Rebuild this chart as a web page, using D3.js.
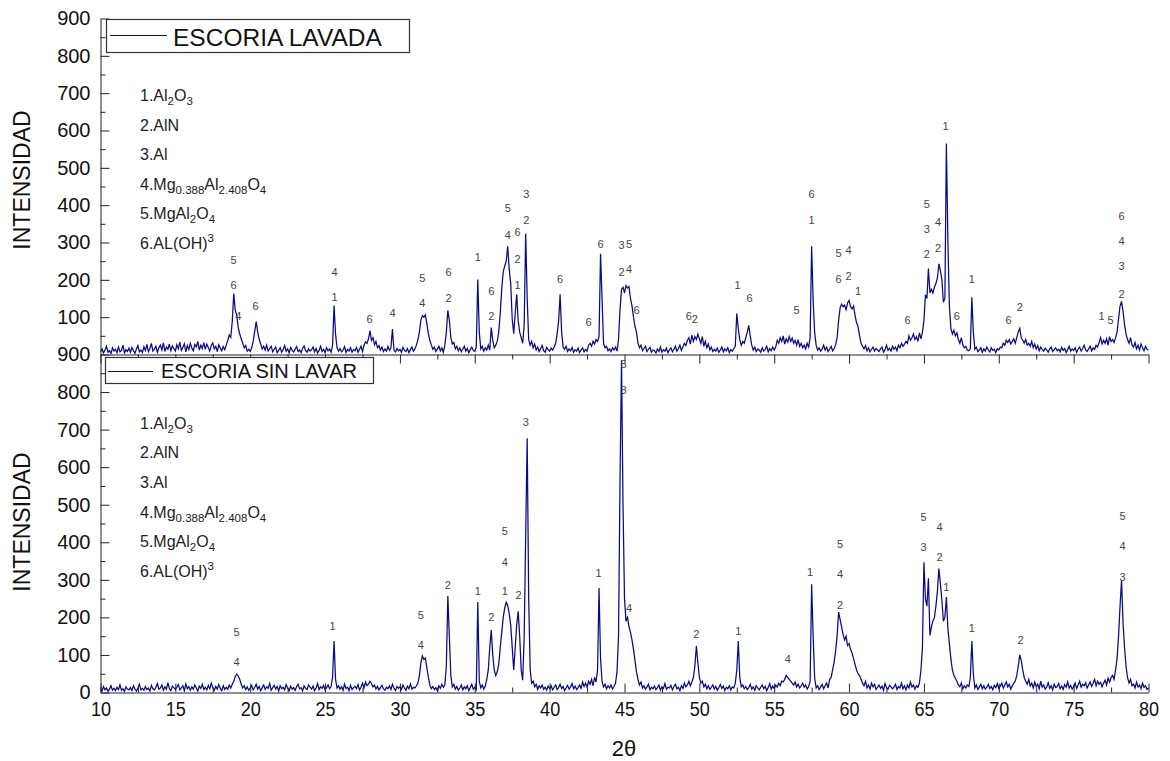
<!DOCTYPE html>
<html>
<head>
<meta charset="utf-8">
<script src="https://cdn.jsdelivr.net/npm/d3@7"></script>
<style>
  body { margin: 0; background: #fff; }
  svg { display: block; }
  text { font-family: "Liberation Sans", Arial, sans-serif; }
</style>
</head>
<body>
<svg id="chart" width="1170" height="761"></svg>
<script>
// Diffractograms sampled every 0.1° in 2θ, starting at 10°
const angleStart = 10;
const angleStep = 0.1;

// Washed slag (ESCORIA LAVADA), one row per degree
const lavada = [
  8,15,4,12,22,6,10,3,18,9,
  14,5,20,7,11,25,4,13,8,17,
  6,19,10,3,15,24,7,12,5,21,
  11,27,8,16,30,9,14,22,6,18,
  25,12,31,8,20,14,28,10,23,16,
  9,26,15,33,11,19,29,7,24,13,
  30,17,10,27,21,35,12,25,16,32,
  14,28,19,9,24,31,15,22,8,26,
  17,10,21,13,25,38,52,46,88,163,
  118,105,72,55,42,30,18,24,9,14,
  8,18,35,62,88,60,40,28,15,22,
  12,25,9,16,22,7,14,20,5,11,
  18,6,13,24,9,15,4,19,11,7,
  14,21,8,12,5,17,23,10,6,15,
  9,13,20,7,16,4,11,22,8,14,
  5,18,10,15,6,24,131,55,18,9,
  16,7,12,21,5,14,9,18,6,13,
  10,19,6,14,22,8,25,34,30,42,
  64,38,45,26,35,18,24,12,20,8,
  15,9,22,11,18,68,12,7,16,10,
  14,6,19,11,8,16,5,13,20,9,
  15,25,40,60,92,104,100,106,82,55,
  38,25,14,20,8,15,22,10,18,6,
  25,60,118,92,45,28,32,15,22,10,
  18,7,14,22,9,16,5,13,20,11,
  8,20,201,60,15,22,9,18,12,25,
  12,72,38,18,25,35,60,110,175,222,
  237,250,290,228,190,95,56,110,161,90,
  60,45,30,80,324,150,40,25,35,18,
  28,12,20,8,16,24,10,6,19,13,
  9,17,12,20,30,55,90,161,60,20,
  14,22,8,15,10,19,6,13,9,17,
  5,12,18,7,14,9,25,30,22,35,
  28,40,35,48,270,150,30,18,22,10,
  15,8,18,12,20,9,40,120,175,180,
  165,185,178,182,150,130,100,75,60,30,
  18,25,10,16,22,8,14,19,6,12,
  10,4,15,8,20,6,13,9,17,5,
  12,18,7,14,22,9,16,25,11,20,
  30,24,38,45,28,52,35,48,40,55,
  42,30,48,22,35,18,28,12,20,8,
  14,9,17,6,12,20,7,15,10,18,
  5,13,9,16,22,110,70,40,25,35,
  30,45,60,78,50,25,12,20,8,15,
  12,6,18,9,14,22,7,16,10,20,
  12,20,38,30,45,35,50,28,42,33,
  48,35,44,30,38,25,40,22,30,18,
  25,15,30,20,45,290,145,60,25,12,
  18,9,15,25,12,20,8,14,22,10,
  16,25,45,90,125,135,128,132,120,138,
  145,128,122,130,105,85,75,50,30,22,
  15,24,10,18,7,14,20,9,16,12,
  8,15,20,6,13,25,11,17,9,22,
  14,20,10,25,18,30,22,28,35,30,
  50,38,45,55,40,48,35,58,42,60,
  90,160,150,230,165,175,165,180,190,205,
  243,225,200,140,150,565,305,130,70,55,
  65,50,58,40,30,45,25,18,22,12,
  10,16,153,60,14,20,8,12,18,6,
  15,9,20,12,7,18,11,14,5,16,
  12,20,18,30,25,38,32,40,28,35,
  42,30,45,60,70,45,38,30,40,25,
  30,22,35,18,28,15,24,10,20,14,
  9,17,12,6,15,20,8,13,18,10,
  14,7,19,11,16,5,13,22,9,15,
  11,18,6,14,20,9,16,25,12,8,
  15,22,10,18,14,25,20,32,45,28,
  38,30,42,25,48,35,40,32,45,60,
  95,130,142,115,80,55,40,30,45,25,
  20,32,15,25,12,28,18,10,22,14,
  12
];

// Unwashed slag (ESCORIA SIN LAVAR), one row per degree
const sinLavar = [
  10,4,16,7,12,3,9,18,6,11,
  5,14,8,20,6,10,3,15,9,7,
  13,5,18,9,4,12,22,7,11,6,
  16,8,12,4,19,10,7,14,24,9,
  12,20,6,15,9,26,11,5,17,13,
  8,14,21,7,12,18,5,23,10,16,
  6,15,9,20,12,4,17,11,22,8,
  14,7,19,10,25,13,6,16,9,21,
  11,5,18,8,14,9,20,12,22,30,
  42,49,44,35,22,12,18,8,15,6,
  12,18,7,14,22,9,16,5,13,20,
  8,15,11,24,6,13,19,9,16,4,
  18,10,14,7,21,12,5,17,9,13,
  6,16,22,10,13,4,18,11,8,20,
  14,9,17,5,12,24,8,15,11,19,
  7,13,20,10,16,40,137,35,12,18,
  9,15,6,22,11,14,5,19,8,13,
  16,10,21,7,14,25,12,28,18,22,
  30,24,15,20,9,16,7,13,19,10,
  6,14,10,18,8,22,12,5,16,11,
  15,8,20,12,6,17,10,23,9,14,
  12,18,25,45,80,97,88,92,65,40,
  20,10,16,8,13,5,18,11,22,14,
  20,70,257,150,45,15,22,9,16,6,
  12,20,7,15,10,18,5,13,22,9,
  14,8,241,30,12,20,9,17,35,60,
  120,166,100,60,45,55,75,120,160,200,
  225,240,232,210,180,120,60,120,180,216,
  150,60,33,150,420,677,250,60,25,30,
  15,22,8,18,12,20,9,14,6,17,
  10,18,7,14,20,8,13,22,11,16,
  5,12,19,9,15,24,10,17,8,13,
  20,11,28,16,25,14,30,22,35,18,
  40,28,60,278,90,30,15,22,10,18,
  12,20,9,16,25,55,150,560,884,503,
  250,190,200,175,160,140,115,85,55,35,
  20,28,12,18,9,15,22,7,14,10,
  17,8,13,20,6,15,11,24,9,14,
  12,19,7,16,22,10,14,5,18,11,
  25,15,20,30,18,28,40,70,124,80,
  40,25,30,15,22,10,18,8,14,20,
  9,16,6,13,21,11,17,5,14,10,
  18,7,15,12,25,60,137,40,15,20,
  10,16,8,13,22,9,15,6,18,12,
  7,14,20,10,16,5,13,24,9,17,
  11,20,14,25,18,30,28,35,45,40,
  35,30,25,20,28,15,22,12,18,25,
  14,20,9,16,30,288,150,40,12,18,
  8,15,22,10,18,25,12,35,40,60,
  80,110,150,214,195,175,155,140,150,125,
  130,115,105,90,75,60,50,45,35,25,
  18,30,12,20,9,25,15,22,8,14,
  20,11,17,6,24,13,9,19,15,10,
  14,22,8,16,12,25,10,18,7,20,
  12,28,15,20,9,18,14,25,60,120,
  347,250,230,304,152,175,190,200,230,270,
  330,290,245,190,200,254,170,130,90,60,
  45,38,30,20,15,25,10,18,12,20,
  16,40,137,50,12,20,8,15,22,10,
  18,9,14,22,11,16,7,19,13,24,
  10,17,25,12,20,28,15,22,9,18,
  25,30,45,70,100,85,60,40,30,22,
  35,18,25,12,28,16,22,10,30,14,
  20,9,15,26,11,18,7,22,13,16,
  24,10,17,8,21,14,28,12,19,9,
  15,25,11,20,30,14,22,18,26,12,
  20,28,16,24,35,18,30,22,27,15,
  25,33,20,38,28,40,45,35,60,90,
  150,230,299,185,120,70,40,25,35,18,
  22,12,28,15,20,10,25,14,18,8,
  12
];

// Axis ticks
const xMajorTicks = [10,15,20,25,30,35,40,45,50,55,60,65,70,75,80];
const xMinorTicks = [12.5,17.5,22.5,27.5,32.5,37.5,42.5,47.5,52.5,57.5,62.5,67.5,72.5,77.5];
const yMajorTicksTop = [100,200,300,400,500,600,700,800,900];
const yMajorTicksBottom = [0,100,200,300,400,500,600,700,800,900];
const yMinorTicks = [50,150,250,350,450,550,650,750,850];

// Phase key: [text, "sub" | "sup" | ""]
const phases = [
  [["1.Al",""],["2","sub"],["O",""],["3","sub"]],
  [["2.AlN",""]],
  [["3.Al",""]],
  [["4.Mg",""],["0.388","sub"],["Al",""],["2.408","sub"],["O",""],["4","sub"]],
  [["5.MgAl",""],["2","sub"],["O",""],["4","sub"]],
  [["6.AL(OH)",""],["3","sup"]]
];

// Peak identification labels: [2θ, intensity, phase number]
const lavadaPeaks = [
  [18.88,254,"5"],[18.88,187,"6"],[19.2,102,"4"],[20.35,131,"6"],
  [25.63,222,"4"],[25.63,155,"1"],[27.97,96,"6"],[29.5,110,"4"],
  [31.5,206,"5"],[31.5,139,"4"],[33.25,220,"6"],[33.25,150,"2"],
  [35.2,260,"1"],[36.1,171,"6"],[36.1,102,"2"],
  [37.2,391,"5"],[37.2,321,"4"],[37.85,327,"6"],[37.85,257,"2"],[37.85,187,"1"],
  [38.45,429,"3"],[38.45,359,"2"],[40.7,201,"6"],[42.6,86,"6"],[43.4,297,"6"],
  [44.8,292,"3"],[45.3,295,"5"],[44.8,222,"2"],[45.3,228,"4"],[45.8,120,"6"],
  [49.3,104,"6"],[49.7,96,"2"],[52.55,187,"1"],[53.35,150,"6"],[56.5,120,"5"],
  [57.5,429,"6"],[57.5,359,"1"],
  [59.3,273,"5"],[59.97,279,"4"],[59.3,201,"6"],[59.97,209,"2"],[60.6,169,"1"],
  [63.9,91,"6"],[65.2,404,"5"],[65.2,335,"3"],[65.95,356,"4"],[65.2,268,"2"],[65.95,284,"2"],
  [66.45,613,"1"],[67.2,104,"6"],[68.2,201,"1"],[70.65,91,"6"],[71.4,126,"2"],
  [76.87,102,"1"],[77.47,91,"5"],
  [78.2,372,"6"],[78.2,303,"4"],[78.2,236,"3"],[78.2,163,"2"]
];
const sinLavarPeaks = [
  [19.08,161,"5"],[19.08,81,"4"],[25.5,177,"1"],[31.4,206,"5"],[31.4,126,"4"],
  [33.2,286,"2"],[35.2,270,"1"],[36.1,201,"2"],
  [37.0,429,"5"],[37.0,347,"4"],[37.0,270,"1"],[37.92,259,"2"],[38.4,719,"3"],
  [43.27,318,"1"],[44.94,874,"5"],[44.94,805,"3"],[45.3,225,"4"],
  [49.8,155,"2"],[52.6,163,"1"],[55.9,89,"4"],[57.4,320,"1"],
  [59.4,395,"5"],[59.4,315,"4"],[59.4,233,"2"],
  [64.98,467,"5"],[64.98,387,"3"],[66.05,441,"4"],[66.05,361,"2"],[66.5,281,"1"],
  [68.2,172,"1"],[71.46,140,"2"],
  [78.27,469,"5"],[78.27,390,"4"],[78.27,308,"3"]
];

const seriesNames = ["ESCORIA LAVADA", "ESCORIA SIN LAVAR"];

const svg = d3.select("#chart");
const lineColor = "#0a0a88";
const axisColor = "#222";

const x = d3.scaleLinear().domain([10, 80]).range([100.5, 1148.5]);
const yTop = d3.scaleLinear().domain([0, 900]).range([354.5, 18.5]);
const yBot = d3.scaleLinear().domain([0, 900]).range([692.5, 354.5]);

function toPoints(values) {
  return values.map((v, i) => [angleStart + i * angleStep, v]);
}

function drawSeries(values, y) {
  const line = d3.line().x(d => x(d[0])).y(d => y(d[1]));
  svg.append("path")
    .datum(toPoints(values))
    .attr("fill", "none")
    .attr("stroke", lineColor)
    .attr("stroke-width", 1.25)
    .attr("stroke-linejoin", "miter")
    .attr("d", line);
}

function styleAxis(g) {
  g.selectAll("path.domain").attr("stroke", axisColor);
  g.selectAll(".tick line").attr("stroke", axisColor);
  g.selectAll("text").attr("fill", "#111").attr("font-family", "Liberation Sans, Arial, sans-serif");
}

function drawYAxis(y, majors) {
  const g = svg.append("g").attr("transform", "translate(100.5,0)");
  g.call(d3.axisLeft(y).tickValues(majors).tickSizeInner(-9).tickSizeOuter(0).tickPadding(10).tickFormat(d3.format("d")))
    .call(styleAxis);
  g.selectAll("text").attr("font-size", 20);
  const gm = svg.append("g").attr("transform", "translate(100.5,0)");
  gm.call(d3.axisLeft(y).tickValues(yMinorTicks).tickSizeInner(-5).tickSizeOuter(0).tickFormat(""))
    .call(styleAxis);
  gm.select("path.domain").remove();
}

function drawXAxis(yPos, inward, labels) {
  const dir = inward ? -1 : 1;
  const g = svg.append("g").attr("transform", `translate(0,${yPos})`);
  g.call(d3.axisBottom(x).tickValues(xMajorTicks).tickSizeInner(9 * dir).tickSizeOuter(0)
      .tickPadding(labels ? 9 : 3).tickFormat(labels ? d3.format("d") : ""))
    .call(styleAxis);
  if (labels) {
    g.selectAll("text").attr("font-size", 21).attr("transform", "scale(0.86,1)");
  }
  const gm = svg.append("g").attr("transform", `translate(0,${yPos})`);
  gm.call(d3.axisBottom(x).tickValues(xMinorTicks).tickSizeInner(5 * dir).tickSizeOuter(0).tickFormat(""))
    .call(styleAxis);
  gm.select("path.domain").remove();
}

// Data traces
drawSeries(lavada, yTop);
drawSeries(sinLavar, yBot);

// Axes
drawYAxis(yTop, yMajorTicksTop);
drawYAxis(yBot, yMajorTicksBottom);
drawXAxis(354.5, false, false);
drawXAxis(692.5, true, true);

// Axis titles
[[180], [522]].forEach(([cy]) => {
  svg.append("text")
    .attr("transform", `translate(30,${cy}) rotate(-90)`)
    .attr("text-anchor", "middle")
    .attr("font-size", 23)
    .attr("fill", "#111")
    .text("INTENSIDAD");
});
svg.append("text")
  .attr("x", 624).attr("y", 756)
  .attr("text-anchor", "middle")
  .attr("font-size", 22)
  .attr("fill", "#111")
  .text("2θ");

// Series legends
function drawLegend(box, lineY, lineX0, lineX1, textX, textY, size, name) {
  svg.append("rect")
    .attr("x", box[0]).attr("y", box[1]).attr("width", box[2]).attr("height", box[3])
    .attr("fill", "#fff").attr("stroke", "#333").attr("stroke-width", 1.2);
  svg.append("line")
    .attr("x1", lineX0).attr("x2", lineX1).attr("y1", lineY).attr("y2", lineY)
    .attr("stroke", lineColor).attr("stroke-width", 1);
  svg.append("text")
    .attr("x", textX).attr("y", textY)
    .attr("font-size", size).attr("fill", "#111")
    .text(name);
}
drawLegend([106.5, 19.5, 303, 33], 35.5, 110, 167, 173, 45.5, 24.5, seriesNames[0]);
drawLegend([105.5, 357.5, 268, 26], 371.5, 108, 153, 161, 377.5, 20, seriesNames[1]);

// Phase keys
function drawPhaseKey(x0, baselines) {
  phases.forEach((segs, i) => {
    const t = svg.append("text")
      .attr("x", x0).attr("y", baselines[i])
      .attr("font-size", 16).attr("fill", "#222");
    let shift = 0;
    segs.forEach(([str, kind]) => {
      const target = kind === "sub" ? 4 : kind === "sup" ? -7 : 0;
      t.append("tspan")
        .attr("dy", target - shift)
        .attr("font-size", kind ? 11.5 : 16)
        .text(str);
      shift = target;
    });
  });
}
drawPhaseKey(140, [101, 130.5, 160, 189.5, 219, 248.5]);
drawPhaseKey(140, [428.5, 458, 488, 517.5, 547, 577]);

// Peak labels
function drawPeakLabels(peaks, y) {
  svg.append("g").selectAll("text")
    .data(peaks)
    .join("text")
    .attr("x", d => x(d[0]))
    .attr("y", d => y(d[1]))
    .attr("dy", "0.36em")
    .attr("text-anchor", "middle")
    .attr("font-size", 11)
    .attr("fill", "#444")
    .text(d => d[2]);
}
drawPeakLabels(lavadaPeaks, yTop);
drawPeakLabels(sinLavarPeaks, yBot);
</script>
</body>
</html>
